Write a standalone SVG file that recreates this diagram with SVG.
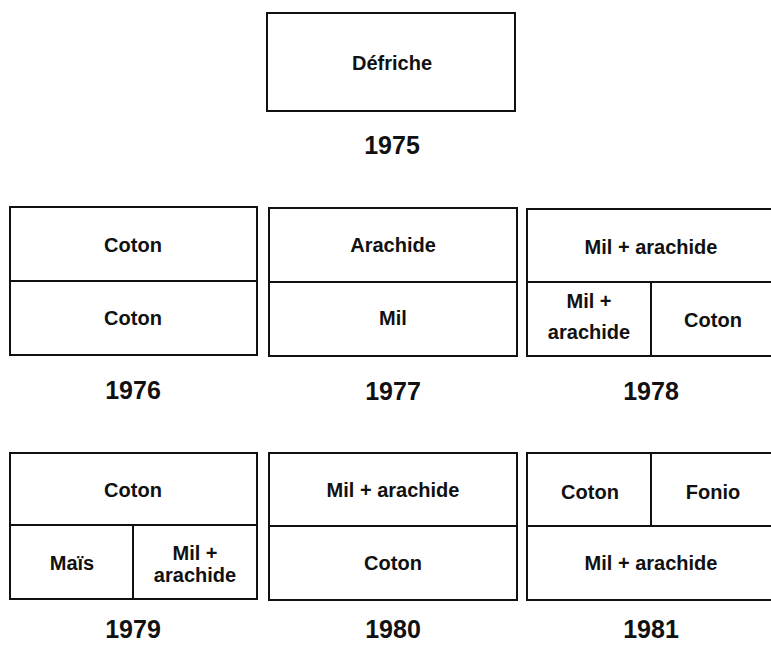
<svg xmlns="http://www.w3.org/2000/svg" width="771" height="645" viewBox="0 0 771 645">
<style>
.b{fill:#fff;stroke:#111;stroke-width:2}
.l{stroke:#111;stroke-width:2;fill:none}
text{font-family:"Liberation Sans",Arial,sans-serif;font-weight:bold;fill:#111;text-anchor:middle}
.t{font-size:20px}
.y{font-size:25px}
</style>
<rect width="771" height="645" fill="#fff"/>
<g id="n1975">
<rect class="b" x="267" y="13" width="248" height="98"/>
<text class="t" x="392" y="70">Défriche</text>
<text class="y" x="392" y="154">1975</text>
</g>
<g id="n1976">
<rect class="b" x="10" y="207" width="247" height="148"/>
<line class="l" x1="10" y1="281" x2="257" y2="281"/>
<text class="t" x="133" y="252">Coton</text>
<text class="t" x="133" y="325">Coton</text>
<text class="y" x="133" y="399">1976</text>
</g>
<g id="n1977">
<rect class="b" x="269" y="208" width="248" height="148"/>
<line class="l" x1="269" y1="282" x2="517" y2="282"/>
<text class="t" x="393" y="252">Arachide</text>
<text class="t" x="393" y="325">Mil</text>
<text class="y" x="393" y="400">1977</text>
</g>
<g id="n1978">
<rect class="b" x="527" y="209" width="250" height="147"/>
<line class="l" x1="527" y1="282" x2="777" y2="282"/>
<line class="l" x1="651" y1="282" x2="651" y2="356"/>
<text class="t" x="651" y="254">Mil + arachide</text>
<text class="t" x="589" y="308">Mil +</text>
<text class="t" x="589" y="339">arachide</text>
<text class="t" x="713" y="327">Coton</text>
<text class="y" x="651" y="400">1978</text>
</g>
<g id="n1979">
<rect class="b" x="10" y="453" width="247" height="146"/>
<line class="l" x1="10" y1="525" x2="257" y2="525"/>
<line class="l" x1="133" y1="525" x2="133" y2="599"/>
<text class="t" x="133" y="497">Coton</text>
<text class="t" x="72" y="570">Maïs</text>
<text class="t" x="195" y="560">Mil +</text>
<text class="t" x="195" y="582">arachide</text>
<text class="y" x="133" y="638">1979</text>
</g>
<g id="n1980">
<rect class="b" x="269" y="453" width="248" height="147"/>
<line class="l" x1="269" y1="526" x2="517" y2="526"/>
<text class="t" x="393" y="497">Mil + arachide</text>
<text class="t" x="393" y="570">Coton</text>
<text class="y" x="393" y="638">1980</text>
</g>
<g id="n1981">
<rect class="b" x="527" y="453" width="250" height="147"/>
<line class="l" x1="527" y1="526" x2="777" y2="526"/>
<line class="l" x1="651" y1="453" x2="651" y2="526"/>
<text class="t" x="590" y="499">Coton</text>
<text class="t" x="713" y="499">Fonio</text>
<text class="t" x="651" y="570">Mil + arachide</text>
<text class="y" x="651" y="638">1981</text>
</g>
<g id="connectors"></g>
</svg>
